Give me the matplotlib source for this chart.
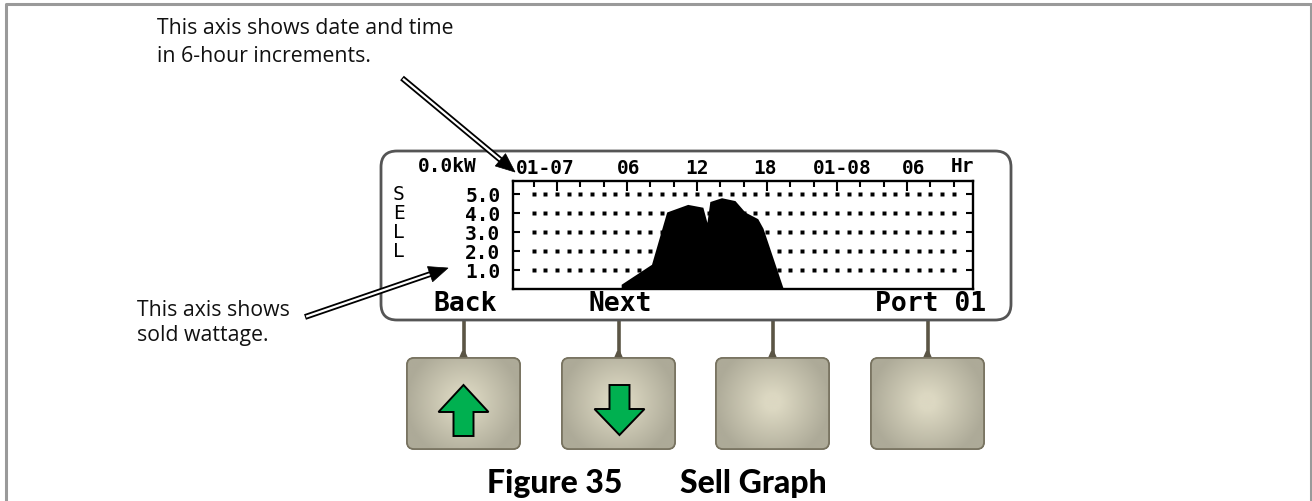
import matplotlib
matplotlib.use("Agg")
import matplotlib.pyplot as plt
import numpy as np
from matplotlib.patches import FancyBboxPatch, Polygon
from matplotlib.transforms import blended_transform_factory

# ---------------- data ----------------
hours = [5.5, 5.5, 8.1, 9.4, 11.2, 12.5, 12.85, 13.1, 14.1, 15.25, 16.1, 17.2, 17.65, 19.4]
sell_kw = [0.0, 0.25, 1.3, 4.05, 4.45, 4.3, 3.5, 4.6, 4.8, 4.65, 4.05, 3.7, 3.2, 0.0]
y_ticks = [1, 2, 3, 4, 5]
y_tick_labels = ["1.0", "2.0", "3.0", "4.0", "5.0"]
x_label_hours = [0, 6, 12, 18, 24, 30]
x_labels = ["01-07", "06", "12", "18", "01-08", "06"]
x_label_nudge = [-1.0, 0.1, 0.0, -0.2, 0.45, 0.55]
grid_hours = list(range(-2, 35))

W, H = 1312, 502
fig = plt.figure(figsize=(W / 100, H / 100), dpi=100)

# overlay for decoration, pixel coordinates
ov = fig.add_axes([0, 0, 1, 1], zorder=0)
ov.set_xlim(0, W)
ov.set_ylim(H, 0)
ov.axis("off")

# outer border
ov.plot([6, 6, 1311, 1311], [H + 5, 5, 5, H + 5], color="#9a9a9a", lw=2.2, solid_capstyle="butt")

# LCD frame
frame = FancyBboxPatch((381, 152), 630, 169, boxstyle="round,pad=0,rounding_size=16",
                       fc="white", ec="#555555", lw=2.0, zorder=2)
ov.add_patch(frame)

# stems and buttons
btn_x = [407, 562, 716, 871]
btn_w, btn_top, btn_bot = 113, 359, 450
for bx in btn_x:
    cx = bx + btn_w / 2
    ov.plot([cx, cx], [321, 356], color="#5b5545", lw=2.6, solid_capstyle="butt", zorder=1)
    ov.add_patch(Polygon([[cx - 1.5, 352], [cx + 1.5, 352], [cx + 5, 360], [cx - 5, 360]],
                         closed=True, fc="#5b5545", ec="none", zorder=1))
    patch = FancyBboxPatch((bx, btn_top), btn_w, btn_bot - btn_top,
                           boxstyle="round,pad=0,rounding_size=7", fc="#adaa98",
                           ec="#77725f", lw=1.2, zorder=3)
    ov.add_patch(patch)
    gx = np.linspace(bx, bx + btn_w, 120)
    gy = np.linspace(btn_top, btn_bot, 120)
    GX, GY = np.meshgrid(gx, gy)
    r = np.sqrt((GX - cx) ** 2 + (GY - 403) ** 2)
    t = np.clip((r - 8) / 50, 0, 1)
    c0 = np.array([0xdc, 0xd8, 0xc2]) / 255
    c1 = np.array([0xad, 0xaa, 0x98]) / 255
    img = c0[None, None, :] * (1 - t[..., None]) + c1[None, None, :] * t[..., None]
    im = ov.imshow(img, extent=(bx, bx + btn_w, btn_bot, btn_top), origin="upper",
                   zorder=3.5, interpolation="bilinear", aspect="auto")
    im.set_clip_path(patch)
    ov.add_patch(FancyBboxPatch((bx, btn_top), btn_w, btn_bot - btn_top,
                                boxstyle="round,pad=0,rounding_size=7", fc="none",
                                ec="#77725f", lw=1.2, zorder=4))
ov.set_xlim(0, W)
ov.set_ylim(H, 0)

# green arrows
green = "#00b050"
cx = btn_x[0] + btn_w / 2
up = [[cx, 386], [cx + 25, 413], [cx + 10, 413], [cx + 10, 437], [cx - 10, 437],
      [cx - 10, 413], [cx - 25, 413]]
ov.add_patch(Polygon(up, closed=True, fc=green, ec="black", lw=1.4, joinstyle="miter", zorder=5))
cx = btn_x[1] + btn_w / 2 + 1
dn = [[cx, 436], [cx + 25, 410], [cx + 10, 410], [cx + 10, 386], [cx - 10, 386],
      [cx - 10, 410], [cx - 25, 410]]
ov.add_patch(Polygon(dn, closed=True, fc=green, ec="black", lw=1.4, joinstyle="miter", zorder=5))

# callout arrows (double line)
def callout(x0, y0, x1, y1):
    d = np.array([x1 - x0, y1 - y0], float)
    L = np.hypot(*d)
    u = d / L
    n = np.array([-u[1], u[0]])
    hl, hw = 19, 8
    base = np.array([x1, y1]) - u * hl
    ov.plot([x0, base[0] + u[0] * 2], [y0, base[1] + u[1] * 2], color="black", lw=4.2,
            solid_capstyle="butt", zorder=6)
    ov.plot([x0 + u[0] * 1.2, base[0] + u[0] * 2], [y0 + u[1] * 1.2, base[1] + u[1] * 2],
            color="white", lw=1.6, solid_capstyle="butt", zorder=6.5)
    head = [[x1, y1], list(base + n * hw), list(base - n * hw)]
    ov.add_patch(Polygon(head, closed=True, fc="black", ec="black", lw=0.5, zorder=7))

callout(402, 79, 515, 173)
callout(305, 318, 448, 269)

txt_font = ["Open Sans", "DejaVu Sans"]
for x, y, s in [(157, 29, "This axis shows date and time"), (157, 56, "in 6-hour increments."),
                (137, 311, "This axis shows"), (137, 336, "sold wattage.")]:
    ov.text(x, y, s, fontsize=15.3, family=txt_font, va="center", ha="left", color="#111111")

for x, s in [(487, "Figure 35"), (680, "Sell Graph")]:
    ov.text(x, 493, s, fontsize=23, family=["Lato", "DejaVu Sans"], weight="black",
            va="baseline", ha="left", color="black")

# LCD bottom labels
mono = "DejaVu Sans Mono"
ov.text(465, 304, "Back", fontsize=19, family=mono, weight="bold", ha="center", va="center", zorder=5)
ov.text(620, 304, "Next", fontsize=19, family=mono, weight="bold", ha="center", va="center", zorder=5)
ov.text(986, 304, "Port 01", fontsize=19, family=mono, weight="bold", ha="right", va="center", zorder=5)
ov.text(447, 167, "0.0kW", fontsize=14, family=mono, weight="bold", ha="center", va="center", zorder=5)
ov.text(962, 167, "Hr", fontsize=14, family=mono, weight="bold", ha="center", va="center", zorder=5)

# ---------------- main LCD plot ----------------
px2 = lambda x0, y0, x1, y1: [x0 / W, 1 - y1 / H, (x1 - x0) / W, (y1 - y0) / H]
ax = fig.add_axes(px2(513, 182, 973, 290), zorder=2)
ax.set_xlim(-3.77, 35.65)
ax.set_ylim(0, 5.68)
for s in ax.spines.values():
    s.set_linewidth(1.7)
    s.set_color("black")

for yv in y_ticks:
    ax.plot(grid_hours, [yv] * len(grid_hours), ls="none", marker="s", ms=2.5,
            mfc="black", mec="none", zorder=1)
ax.fill_between(hours, sell_kw, 0, color="black", lw=0, zorder=2)

ax.set_yticks(y_ticks)
ax.set_yticklabels(y_tick_labels, family=mono, fontsize=14, weight="bold")
ax.tick_params(axis="y", which="both", direction="in", length=5, width=1.5,
               left=True, right=True, labelleft=True, pad=9)
ax.set_xticks(list(range(0, 36, 6)))
ax.set_xticks(list(range(-2, 36, 2)), minor=True)
ax.tick_params(axis="x", which="major", direction="in", length=7, width=1.5,
               top=True, bottom=False, labelbottom=False, labeltop=False)
ax.tick_params(axis="x", which="minor", direction="in", length=4, width=1.5,
               top=True, bottom=False)

tr = blended_transform_factory(ax.transData, ax.transAxes)
for h, lab, nd in zip(x_label_hours, x_labels, x_label_nudge):
    ax.text(h + nd, 1.0 + 14 / 108, lab, transform=tr, family=mono, fontsize=14,
            weight="bold", ha="center", va="center", clip_on=False)

ty = ax.get_yaxis_transform()
for yv, ch in zip([5, 4, 3, 2], "SELL"):
    ax.text(-0.248, yv, ch, transform=ty, family=mono, fontsize=14, ha="center",
            va="center", clip_on=False)

fig.savefig("out.png", dpi=100)
